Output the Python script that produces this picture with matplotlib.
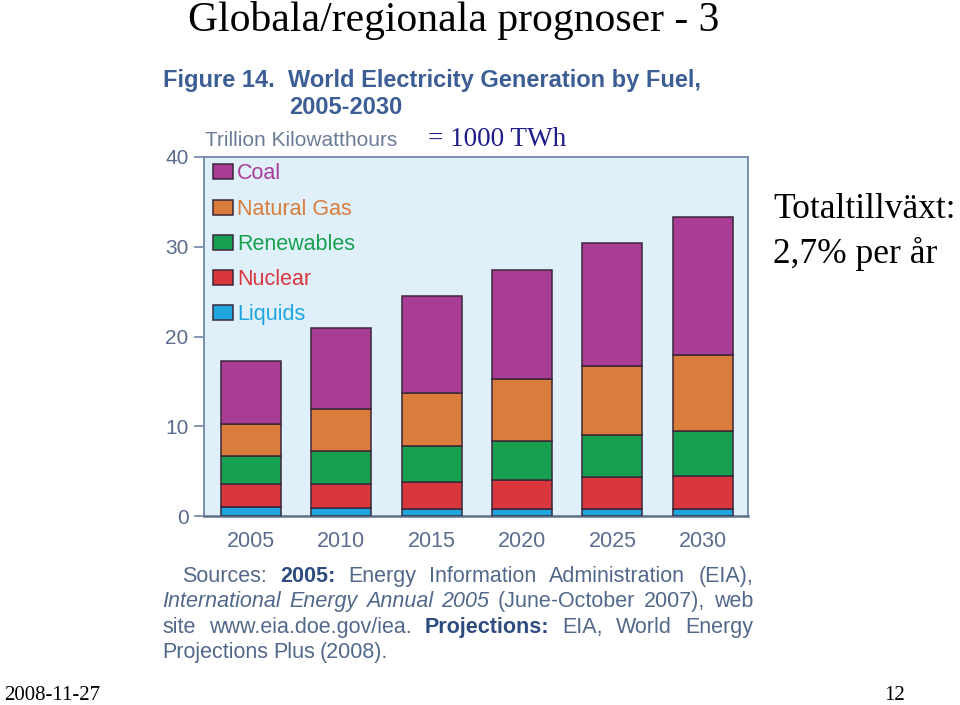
import matplotlib
matplotlib.use("Agg")
import matplotlib.pyplot as plt
from matplotlib.patches import Patch
import numpy as np

years = ["2005", "2010", "2015", "2020", "2025", "2030"]
series = ["Liquids", "Nuclear", "Renewables", "Natural Gas", "Coal"]
liquids = [0.95, 0.85, 0.8, 0.8, 0.8, 0.8]
nuclear = [2.65, 2.75, 2.95, 3.2, 3.6, 3.7]
renewables = [3.1, 3.6, 4.05, 4.4, 4.6, 5.0]
natural_gas = [3.5, 4.7, 5.9, 6.9, 7.75, 8.4]
coal = [7.1, 9.1, 10.8, 12.15, 13.65, 15.4]
yticks = [0, 10, 20, 30, 40]

colors = {"Liquids": "#1fa6df", "Nuclear": "#d9363e", "Renewables": "#16a04f",
          "Natural Gas": "#d97c3c", "Coal": "#a83c96"}
values = {"Liquids": liquids, "Nuclear": nuclear, "Renewables": renewables,
          "Natural Gas": natural_gas, "Coal": coal}

SANS = ["Liberation Sans", "DejaVu Sans"]
SERIF = ["Liberation Serif", "DejaVu Serif"]
AXC = "#7a8fae"
TXT = "#5a6d8e"
HEAD = "#3c5e95"

fig = plt.figure(figsize=(9.6, 7.05), dpi=100)
fig.patch.set_facecolor("white")
ax = fig.add_axes([204/960, 1-516/705, (748-204)/960, (516-157)/705])
ax.set_facecolor("#dff0fb")

x = np.arange(len(years))
bottom = np.zeros(len(years))
for s in series:
    v = np.array(values[s])
    ax.bar(x, v, bottom=bottom, width=0.665, color=colors[s],
           edgecolor="#3a2838", linewidth=1.1, zorder=3)
    bottom += v

ax.set_xlim(-0.52, 5.5)
ax.set_ylim(0, 40)
ax.set_yticks(yticks)
ax.set_yticklabels([str(t) for t in yticks], family=SANS, fontsize=15, color=TXT)
ax.set_xticks(x)
ax.set_xticklabels(years, family=SANS, fontsize=15.5, color=TXT)
ax.tick_params(axis="x", length=0, pad=11)
ax.tick_params(axis="y", length=7, width=1.3, color=AXC, pad=4, direction="out")
for sp in ax.spines.values():
    sp.set_color(AXC)
    sp.set_linewidth(1.4)
ax.spines["bottom"].set_color("#5e6f88")
ax.spines["bottom"].set_linewidth(1.8)

handles = [Patch(facecolor=colors[s], edgecolor="#3a2838", linewidth=1.1, label=s)
           for s in series[::-1]]
ax.legend(handles=handles, loc="upper left", frameon=False,
          labelcolor=[colors[s] for s in series[::-1]],
          prop={"family": SANS, "size": 15.5}, handlelength=0.95, handleheight=0.7,
          handletextpad=0.2, labelspacing=0.66, borderaxespad=0.0,
          bbox_to_anchor=(0.0, 1.006))

# Slide texts
fig.text(188/960, 1-20/705, "Globala/regionala prognoser - 3", family=SERIF,
         fontsize=30, color="black", va="center", ha="left")
fig.text(163/960, 1-80/705, "Figure 14.  World Electricity Generation by Fuel,",
         family=SANS, fontsize=17, fontweight="bold", color=HEAD, va="center")
fig.text(289/960, 1-107/705, "2005-2030", family=SANS, fontsize=17,
         fontweight="bold", color=HEAD, va="center")
fig.text(205/960, 1-140/705, "Trillion Kilowatthours", family=SANS, fontsize=15,
         color="#6a7c98", va="center")
fig.text(428/960, 1-139/705, "= 1000 TWh", family=SERIF, fontsize=19.5,
         color="#1c1c8a", va="center")
fig.text(773/960, 1-210/705, "Totaltillväxt:", family=SERIF, fontsize=25.5,
         color="black", va="center")
fig.text(773/960, 1-254/705, "2,7% per år", family=SERIF, fontsize=25.5,
         color="black", va="center")
fig.text(4/960, 1-696/705, "2008-11-27", family=SERIF, fontsize=15,
         color="black", va="center")
fig.text(905/960, 1-696/705, "12", family=SERIF, fontsize=15,
         color="black", va="center", ha="right")

# Sources paragraph (justified)
src_lines = [
    (182, True, [("Sources:", "normal", "normal"), ("2005:", "bold", "normal"),
                 ("Energy", "normal", "normal"), ("Information", "normal", "normal"),
                 ("Administration", "normal", "normal"), ("(EIA),", "normal", "normal")]),
    (162, True, [("International", "normal", "italic"), ("Energy", "normal", "italic"),
                 ("Annual", "normal", "italic"), ("2005", "normal", "italic"),
                 ("(June-October", "normal", "normal"), ("2007),", "normal", "normal"),
                 ("web", "normal", "normal")]),
    (162, True, [("site", "normal", "normal"), ("www.eia.doe.gov/iea.", "normal", "normal"),
                 ("Projections:", "bold", "normal"), ("EIA,", "normal", "normal"),
                 ("World", "normal", "normal"), ("Energy", "normal", "normal")]),
    (162, False, [("Projections", "normal", "normal"), ("Plus", "normal", "normal"),
                  ("(2008).", "normal", "normal")]),
]
line_base = [582, 607, 633, 658]
right_edge = 753
renderer = fig.canvas.get_renderer()
for (x0, justify, words), yy in zip(src_lines, line_base):
    txts = []
    for w, wt, st in words:
        c = "#2e4c80" if wt == "bold" else "#52688a"
        t = fig.text(0, 1-yy/705, w, family=SANS, fontsize=15.5, fontweight=wt,
                     style=st, color=c, va="baseline", ha="left")
        txts.append(t)
    widths = [t.get_window_extent(renderer).width for t in txts]
    if justify and len(txts) > 1:
        gap = (right_edge - x0 - sum(widths)) / (len(txts) - 1)
    else:
        gap = 5
    cx = x0
    for t, w in zip(txts, widths):
        t.set_x(cx/960)
        cx += w + gap

fig.savefig("out.png", dpi=100, facecolor="white")
